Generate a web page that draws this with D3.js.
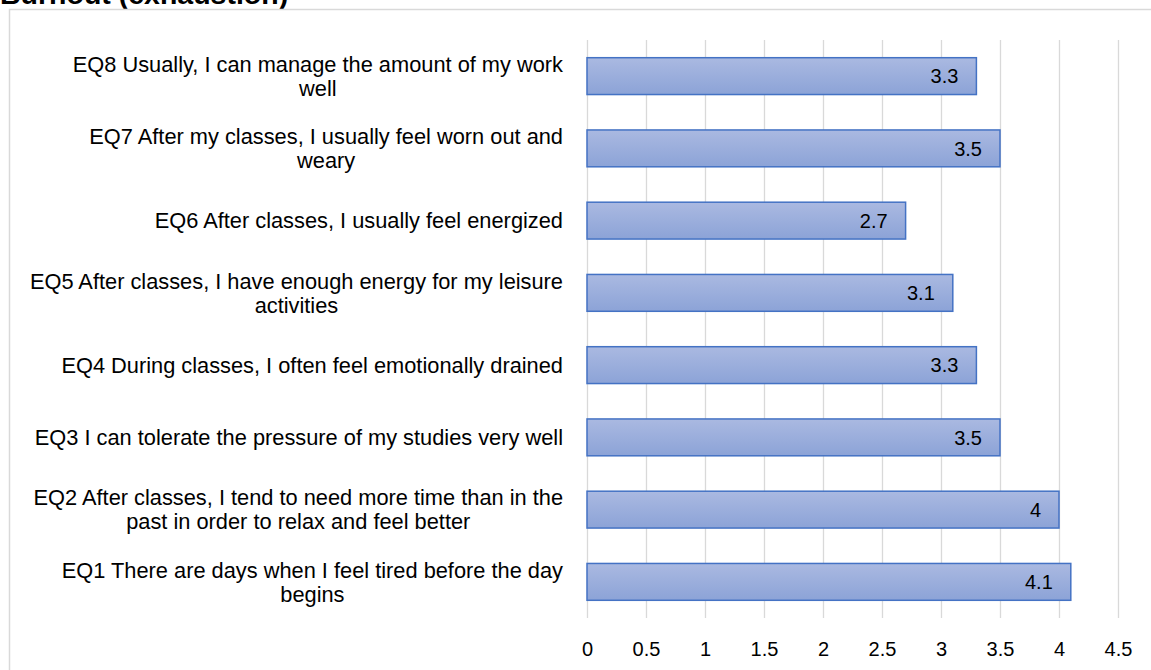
<!DOCTYPE html>
<html>
<head>
<meta charset="utf-8">
<script src="https://cdn.jsdelivr.net/npm/d3@7"></script>
<style>
  body { margin: 0; background: #fff; }
  text { font-family: "Liberation Sans", Arial, sans-serif; fill: #000; }
</style>
</head>
<body>
<script>
var w = 1151;
var h = 670;

// data, bottom to top as in the picture
var questions = ["EQ1", "EQ2", "EQ3", "EQ4", "EQ5", "EQ6", "EQ7", "EQ8"];
var labelLines = [
    ["EQ1 There are days when I feel tired before the day", "begins"],
    ["EQ2 After classes, I tend to need more time than in the", "past in order to relax and feel better"],
    ["EQ3 I can tolerate the pressure of my studies very well"],
    ["EQ4 During classes, I often feel emotionally drained"],
    ["EQ5 After classes, I have enough energy for my leisure", "activities"],
    ["EQ6 After classes, I usually feel energized"],
    ["EQ7 After my classes, I usually feel worn out and", "weary"],
    ["EQ8 Usually, I can manage the amount of my work", "well"]
];
var means = [4.1, 4, 3.5, 3.3, 3.1, 2.7, 3.5, 3.3];
var xTicks = [0, 0.5, 1, 1.5, 2, 2.5, 3, 3.5, 4, 4.5];
var title = "Burnout (exhaustion)";

var svg = d3.select("body")
    .append("svg")
    .attr("width", w)
    .attr("height", h);

// gradient fill like excel
var grad = svg.append("defs").append("linearGradient")
    .attr("id", "barGrad")
    .attr("x1", 0).attr("y1", 0).attr("x2", 0).attr("y2", 1);
grad.append("stop").attr("offset", "0%").attr("stop-color", "#aab9e1");
grad.append("stop").attr("offset", "100%").attr("stop-color", "#8ca3d7");

// title (cut at top)
svg.append("text")
    .attr("x", 0)
    .attr("y", 4)
    .attr("font-size", 28.5)
    .attr("font-weight", "bold")
    .text(title);

// chart border
svg.append("path")
    .attr("d", "M9.5," + h + " V9.5 H" + w)
    .attr("fill", "none")
    .attr("stroke", "#d9d9d9")
    .attr("stroke-width", 1.5);

var x = d3.scaleLinear()
    .domain([0, 4.5])
    .range([587, 1118]);

var y = d3.scaleBand()
    .domain(questions.slice().reverse())
    .range([40, 618])
    .paddingInner(0.49)
    .paddingOuter(0.245);

// gridlines
svg.append("g")
    .selectAll("line")
    .data(xTicks)
    .enter()
    .append("line")
    .attr("x1", d => Math.round(x(d)) + 0.5)
    .attr("x2", d => Math.round(x(d)) + 0.5)
    .attr("y1", 40)
    .attr("y2", 618)
    .attr("stroke", "#d9d9d9")
    .attr("stroke-width", 1.3);

// x axis labels
var xAxis = svg.append("g")
    .attr("transform", "translate(0,618)")
    .call(d3.axisBottom(x).tickValues(xTicks).tickSize(0).tickPadding(24)
        .tickFormat(d => String(d)));
xAxis.select(".domain").remove();
xAxis.selectAll("text")
    .attr("font-size", 20)
    .attr("font-family", "Liberation Sans, Arial, sans-serif")
    .attr("fill", "#000");

// bars
var bars = svg.append("g")
    .selectAll("g")
    .data(questions)
    .enter()
    .append("g");

bars.append("rect")
    .attr("x", x(0))
    .attr("y", d => y(d))
    .attr("width", (d, i) => x(means[i]) - x(0))
    .attr("height", y.bandwidth())
    .attr("fill", "url(#barGrad)")
    .attr("stroke", "#4472c4")
    .attr("stroke-width", 1.5);

bars.append("text")
    .attr("x", (d, i) => x(means[i]) - 18)
    .attr("y", d => y(d) + y.bandwidth() / 2)
    .attr("dy", "0.36em")
    .attr("text-anchor", "end")
    .attr("font-size", 20)
    .text((d, i) => String(means[i]));

// category labels, lines centred, block right aligned
var labelRight = 563;
var lineH = 24;
var labels = svg.append("g")
    .selectAll("text")
    .data(questions)
    .enter()
    .append("text")
    .attr("font-size", 21.8)
    .attr("text-anchor", "middle");

labels.each(function (d, i) {
    var t = d3.select(this);
    var lines = labelLines[i];
    var cy = y(d) + y.bandwidth() / 2;
    var top = cy - (lines.length - 1) * lineH / 2;
    lines.forEach((ln, k) => {
        t.append("tspan")
            .attr("y", top + k * lineH)
            .attr("dy", "0.36em")
            .text(ln);
    });
    var maxW = 0;
    t.selectAll("tspan").each(function () {
        maxW = Math.max(maxW, this.getComputedTextLength());
    });
    t.selectAll("tspan").attr("x", labelRight - maxW / 2);
});
</script>
</body>
</html>
